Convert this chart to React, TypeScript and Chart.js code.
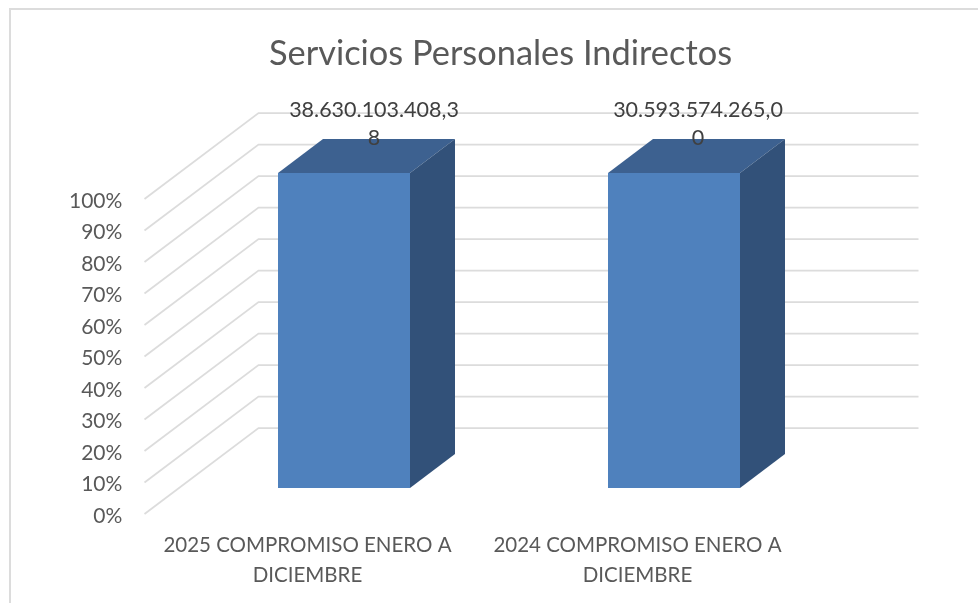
import React, { useEffect, useRef } from "react";
import { Chart, registerables } from "chart.js";

Chart.register(...registerables);

const titleText = "Servicios Personales Indirectos";
const categories = [
  ["2025 COMPROMISO ENERO A", "DICIEMBRE"],
  ["2024 COMPROMISO ENERO A", "DICIEMBRE"],
];
const compromiso = [38630103408.38, 30593574265.0];
const dataLabelLines = [
  ["38.630.103.408,3", "8"],
  ["30.593.574.265,0", "0"],
];
const dataLabelShift = [30, 24];
const gridValues = [0, 10, 20, 30, 40, 50, 60, 70, 80, 90, 100];

const FONT = "Lato, 'Open Sans', sans-serif";
const GREY = "#595959";
const GRID = "#dcdcdc";
const FRONT = "#4f81bd";
const TOP = "#3d6190";
const SIDE = "#325179";

// Perspective of the 3D box, in pixels
const GAP_X = 34.5;
const GAP_Y = 26;
const DEPTH_X = 45;
const DEPTH_Y = 34;

const box3d = {
  id: "box3d",
  beforeDraw(chart: any) {
    const { ctx, width, height } = chart;
    ctx.save();
    ctx.fillStyle = "#ffffff";
    ctx.fillRect(0, 0, width, height);
    ctx.strokeStyle = GRID;
    ctx.lineWidth = 2;
    ctx.beginPath();
    ctx.moveTo(10, height);
    ctx.lineTo(10, 9);
    ctx.lineTo(width, 9);
    ctx.stroke();
    ctx.restore();
  },
  beforeDatasetsDraw(chart: any) {
    const { ctx, chartArea, scales } = chart;
    const y = scales.y;
    const frontX = chartArea.left - GAP_X;
    const backX = chartArea.left + DEPTH_X + GAP_X;
    const endX = chartArea.right + DEPTH_X + GAP_X;
    const backShift = DEPTH_Y + GAP_Y;
    ctx.save();
    ctx.strokeStyle = GRID;
    ctx.lineWidth = 1.75;
    gridValues.forEach((v) => {
      const py = y.getPixelForValue(v);
      ctx.beginPath();
      ctx.moveTo(frontX, py + GAP_Y);
      ctx.lineTo(backX, py - backShift);
      ctx.lineTo(endX, py - backShift);
      ctx.stroke();
    });
    chart.getDatasetMeta(0).data.forEach((bar: any) => {
      const half = bar.width / 2;
      const l = bar.x - half;
      const r = bar.x + half;
      const t = bar.y;
      const b = bar.base;
      ctx.fillStyle = TOP;
      ctx.beginPath();
      ctx.moveTo(l, t);
      ctx.lineTo(l + DEPTH_X, t - DEPTH_Y);
      ctx.lineTo(r + DEPTH_X, t - DEPTH_Y);
      ctx.lineTo(r, t);
      ctx.closePath();
      ctx.fill();
      ctx.fillStyle = SIDE;
      ctx.beginPath();
      ctx.moveTo(r, t);
      ctx.lineTo(r + DEPTH_X, t - DEPTH_Y);
      ctx.lineTo(r + DEPTH_X, b - DEPTH_Y);
      ctx.lineTo(r, b);
      ctx.closePath();
      ctx.fill();
    });
    ctx.restore();
  },
  afterDatasetsDraw(chart: any) {
    const { ctx } = chart;
    ctx.save();
    ctx.fillStyle = "#404040";
    ctx.font = `21.5px ${FONT}`;
    ctx.textAlign = "center";
    ctx.textBaseline = "middle";
    chart.getDatasetMeta(0).data.forEach((bar: any, i: number) => {
      dataLabelLines[i].forEach((line, j) => {
        ctx.fillText(line, bar.x + dataLabelShift[i], bar.y - 63 + j * 28);
      });
    });
    ctx.restore();
  },
};

export default function App() {
  const ref = useRef<HTMLCanvasElement>(null);
  useEffect(() => {
    const shares = compromiso.map((v) => (v / v) * 100);
    const chart = new Chart(ref.current as HTMLCanvasElement, {
      type: "bar",
      data: {
        labels: categories,
        datasets: [
          {
            label: "Compromiso",
            data: shares,
            backgroundColor: FRONT,
            barPercentage: 0.4,
            categoryPercentage: 1,
          },
        ],
      },
      options: {
        responsive: false,
        animation: false,
        layout: { padding: { left: 162, right: 139, top: 0, bottom: 0 } },
        plugins: {
          legend: { display: false },
          tooltip: { enabled: false },
          title: {
            display: true,
            text: titleText,
            color: GREY,
            font: { family: FONT, size: 34.4, weight: "normal", lineHeight: 1 },
            padding: { top: 37, bottom: 101.6 },
          },
        },
        scales: {
          x: {
            grid: { display: false },
            border: { display: false },
            afterFit: (s: any) => {
              s.height = 115;
            },
            ticks: {
              color: GREY,
              font: { family: FONT, size: 20.5, lineHeight: 1.46 },
              autoSkip: false,
              maxRotation: 0,
              minRotation: 0,
              padding: 34,
              labelOffset: -36.5,
            },
          },
          y: {
            min: 0,
            max: 100,
            grid: { display: false, drawTicks: false },
            border: { display: false },
            afterFit: (s: any) => {
              s.width = 17;
            },
            ticks: {
              stepSize: 10,
              color: GREY,
              font: { family: FONT, size: 21 },
              mirror: true,
              crossAlign: "far",
              padding: -110,
              labelOffset: 28,
              callback: (v: any) => `${v}%`,
            },
          },
        },
      },
      plugins: [box3d],
    } as any);
    return () => chart.destroy();
  }, []);
  return (
    <div style={{ position: "absolute", left: 0, top: 0, width: 978, height: 603, overflow: "hidden" }}>
      <canvas ref={ref} width={978} height={603} style={{ display: "block" }} />
    </div>
  );
}
